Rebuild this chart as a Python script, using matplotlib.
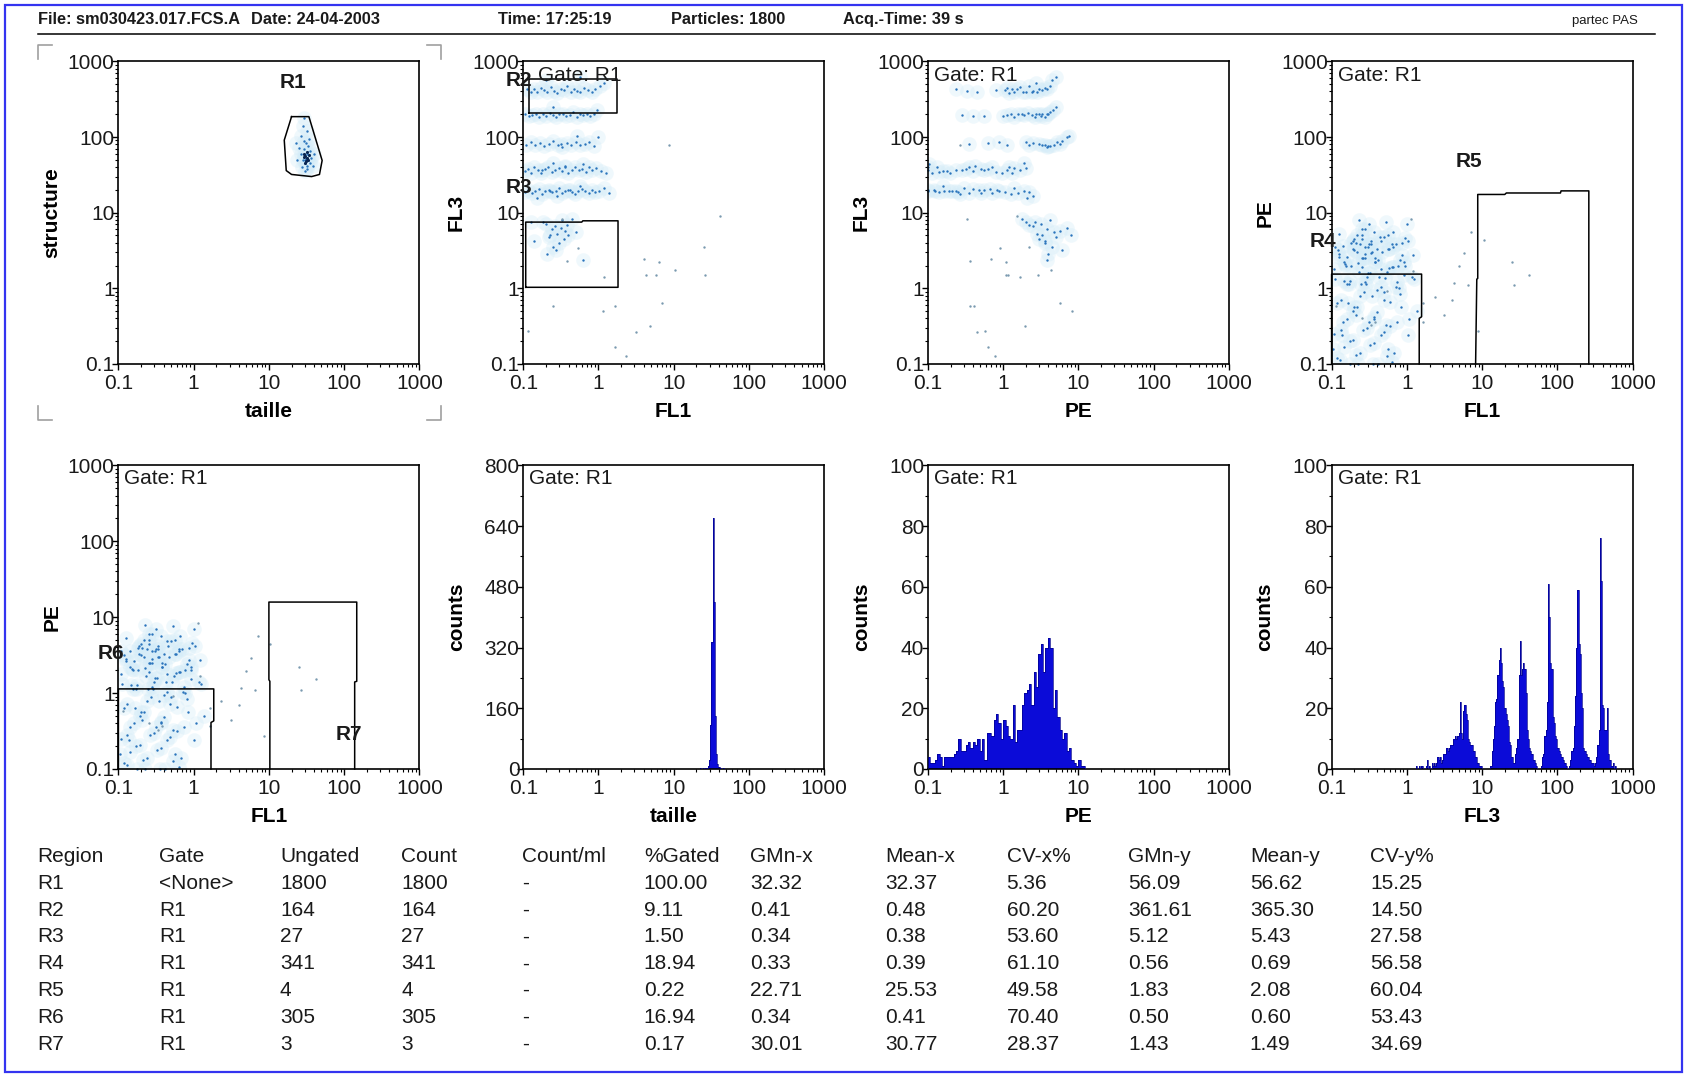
import numpy as np
import matplotlib.pyplot as plt
from matplotlib.lines import Line2D
from matplotlib.patches import Rectangle
from matplotlib.ticker import LogLocator, NullFormatter, MultipleLocator

plt.rcParams['font.family'] = ['Liberation Sans', 'DejaVu Sans']

''' 1. Datos del informe '''
header_parts = ['File: sm030423.017.FCS.A', 'Date: 24-04-2003', 'Time: 17:25:19',
                'Particles: 1800', 'Acq.-Time: 39 s']
brand = 'partec PAS'

# particulas (log10 del canal): FL1, PE, FL3 -- bandas de FL3 ~400, ~200, ~80, ~36, ~19, nube ~6, y dispersos
fl1_log = [-0.95, -0.90, -0.86, -0.81, -0.77, -0.72, -0.68, -0.63, -0.59, -0.55, -0.50, -0.46, -0.42,
           -0.37, -0.33, -0.28, -0.24, -0.19, -0.14, -0.09, -0.04, 0.02, 0.08, -0.70, -0.25,
           -0.97, -0.92, -0.88, -0.83, -0.79, -0.74, -0.70, -0.65, -0.61, -0.56, -0.52, -0.47,
           -0.43, -0.38, -0.34, -0.29, -0.25, -0.20, -0.15, -0.11, -0.06, -0.02, -0.60,
           -0.96, -0.90, -0.84, -0.78, -0.72, -0.66, -0.60, -0.54, -0.48, -0.42, -0.36, -0.30,
           -0.24, -0.18, -0.12, -0.06, 0.00, -0.50, -0.28,
           -0.98, -0.93, -0.89, -0.85, -0.80, -0.76, -0.71, -0.67, -0.62, -0.58, -0.53, -0.49,
           -0.44, -0.40, -0.35, -0.31, -0.26, -0.22, -0.17, -0.13, -0.08, -0.03, 0.03, 0.10,
           -0.75, -0.45, -0.60, -0.20,
           -0.97, -0.93, -0.88, -0.84, -0.79, -0.75, -0.71, -0.66, -0.62, -0.57, -0.53, -0.49,
           -0.44, -0.40, -0.35, -0.31, -0.27, -0.22, -0.18, -0.13, -0.09, -0.04, 0.01, 0.07,
           0.14, -0.65, -0.38, -0.55, -0.25, -0.82,
           -0.70, -0.62, -0.55, -0.48, -0.66, -0.58, -0.52, -0.44, -0.74, -0.40, -0.60, -0.50,
           -0.35, -0.68, -0.46, -0.30, -0.85, -0.56, -0.42, -0.64, -0.20, -0.90,
           1.40, 1.62, 1.42, 1.02, 0.94, 0.60, 0.81, 0.63, 0.76, 0.85, 0.22, 0.50, 0.22, -0.94,
           -0.42, -0.27, 0.08, 0.06, 0.37, 0.69, -0.48, -0.60]
pe_log = [0.12, 0.45, -0.62, 0.30, 0.05, 0.52, -0.35, 0.22, 0.40, 0.08, 0.58, -0.10, 0.35,
          0.15, 0.48, -0.48, 0.27, 0.55, 0.02, 0.38, 0.18, 0.62, 0.44, 0.65, 0.70,
          0.25, 0.50, -0.55, 0.10, 0.42, 0.60, -0.25, 0.33, 0.05, 0.55, 0.20, 0.47,
          -0.40, 0.38, 0.62, 0.14, 0.52, 0.28, 0.58, 0.00, 0.44, 0.66, 0.70,
          0.55, 0.72, 0.35, -0.20, 0.62, 0.48, 0.78, 0.05, 0.58, 0.40, 0.68, -0.05,
          0.52, 0.75, 0.30, 0.60, 0.85, -0.45, 0.88,
          -0.80, -0.20, -0.95, -0.45, 0.05, -0.70, -0.30, -0.88, -0.10, -0.55, 0.15, -0.75,
          -0.38, -0.02, -0.62, -0.15, 0.22, -0.50, -0.85, 0.08, -0.25, 0.30, -0.40, 0.12,
          -1.00, -1.00, 0.28, -0.98,
          -0.60, -0.92, -0.15, -0.78, -0.40, 0.10, -0.68, -0.25, -0.85, -0.05, -0.52, 0.20,
          -0.72, -0.32, 0.02, -0.58, -0.90, -0.18, 0.28, -0.45, -0.08, 0.35, -0.62, 0.15,
          -0.30, -1.00, -1.00, 0.40, -0.80, 0.32,
          0.50, 0.58, 0.45, 0.62, 0.70, 0.40, 0.55, 0.75, 0.30, 0.52, 0.65, 0.85,
          0.25, 0.60, 0.48, 0.68, 0.56, 0.78, 0.35, 0.90, 0.58, 0.42,
          0.35, 0.18, 0.04, 0.64, -0.57, -0.16, 0.04, 0.07, 0.46, 0.75, -0.44, -0.35, -0.20, -0.24,
          -0.44, -0.04, 0.23, 0.92, -0.11, 0.29, -0.48, -0.39]
fl3_log = [2.63, 2.60, 2.64, 2.59, 2.65, 2.62, 2.60, 2.66, 2.61, 2.58, 2.63, 2.62, 2.67,
           2.60, 2.64, 2.61, 2.59, 2.65, 2.62, 2.60, 2.63, 2.68, 2.72, 2.75, 2.80,
           2.30, 2.28, 2.29, 2.31, 2.27, 2.30, 2.28, 2.32, 2.29, 2.27, 2.30, 2.31,
           2.28, 2.29, 2.33, 2.27, 2.30, 2.29, 2.31, 2.28, 2.30, 2.36, 2.40,
           1.90, 1.93, 1.89, 1.92, 1.88, 1.91, 1.95, 1.90, 1.87, 1.92, 1.90, 1.93,
           1.89, 1.91, 1.94, 1.88, 2.00, 1.91, 2.02,
           1.55, 1.58, 1.53, 1.60, 1.56, 1.52, 1.58, 1.61, 1.54, 1.57, 1.59, 1.55,
           1.62, 1.53, 1.57, 1.60, 1.56, 1.58, 1.54, 1.61, 1.56, 1.59, 1.55, 1.52,
           1.57, 1.60, 1.66, 1.64,
           1.27, 1.30, 1.26, 1.29, 1.31, 1.25, 1.28, 1.30, 1.27, 1.29, 1.32, 1.26,
           1.28, 1.30, 1.27, 1.25, 1.29, 1.31, 1.28, 1.26, 1.30, 1.27, 1.29, 1.32,
           1.26, 1.28, 1.30, 1.22, 1.35, 1.20,
           0.85, 0.78, 0.72, 0.90, 0.68, 0.82, 0.60, 0.76, 0.88, 0.70, 0.55, 0.80,
           0.92, 0.45, 0.65, 0.74, 0.63, 0.50, 0.84, 0.70, 0.38, 0.88,
           0.54, 0.95, 0.18, 0.24, 1.90, 0.39, 0.35, 0.17, 0.17, -0.20, -0.24, -0.58, -0.77, -0.57,
           0.36, 0.53, 0.15, -0.30, -0.90, -0.50, 0.92, -0.24]
n_sparse = 22  # los ultimos eventos son puntos aislados

# nube taille / structure (log10)
taille_log = [1.48, 1.50, 1.47, 1.52, 1.49, 1.46, 1.51, 1.53, 1.48, 1.50, 1.49, 1.50,
              1.45, 1.54, 1.47, 1.52, 1.43, 1.49, 1.56, 1.44, 1.51, 1.46, 1.40, 1.55,
              1.42, 1.50, 1.48, 1.58, 1.38, 1.45, 1.53, 1.47, 1.60, 1.36, 1.48]
structure_log = [1.75, 1.72, 1.78, 1.70, 1.68, 1.74, 1.80, 1.76, 1.65, 1.62, 1.71, 1.77,
                 1.70, 1.66, 1.84, 1.88, 1.78, 1.92, 1.72, 1.60, 1.58, 1.95, 1.85, 1.82,
                 2.02, 2.08, 1.55, 1.62, 1.70, 2.15, 1.98, 2.25, 1.78, 1.92, 1.69]

# histogramas: primer canal (desde 0.1) y cuentas
taille_first_ch, taille_per_dec = 148, 64
taille_counts = [1, 0, 2, 0, 1, 2, 1, 2, 3, 8, 25, 115, 335, 662, 440, 140, 40, 12, 5, 2, 1, 0, 2, 1]
pe_first_ch, pe_per_dec = 0, 32
pe_counts = [4, 2, 2, 3, 5, 4, 1, 4, 4, 4, 4, 5, 6, 10, 6, 6, 8, 9, 7, 9,
             8, 10, 6, 10, 3, 12, 12, 11, 16, 18, 15, 10, 16, 14, 11, 10, 21, 9, 13, 13,
             21, 25, 26, 28, 21, 32, 27, 38, 41, 32, 40, 43, 40, 20, 26, 17, 13, 10, 12, 6,
             7, 3, 2, 1, 3, 1, 1]
fl3_first_ch, fl3_per_dec = 72, 64
fl3_counts = [1, 0, 1, 0, 1, 1, 0, 0, 1, 3, 0, 1, 0, 2, 1, 2, 1, 2, 4, 3,
              4, 2, 3, 5, 5, 7, 7, 6, 7, 8, 8, 10, 10, 11, 10, 11, 12, 22, 12, 10,
              19, 21, 18, 16, 10, 9, 8, 8, 6, 6, 4, 4, 2, 1, 1, 1, 0, 0, 0, 0,
              0, 0, 0, 1, 6, 10, 14, 22, 23, 31, 36, 40, 35, 29, 27, 20, 18, 16, 14, 9,
              8, 4, 2, 2, 5, 7, 10, 31, 42, 31, 33, 35, 33, 25, 13, 10, 7, 6, 5, 3,
              3, 2, 1, 0, 0, 0, 1, 4, 5, 11, 13, 22, 61, 50, 35, 33, 17, 15, 11, 10,
              7, 6, 5, 4, 4, 3, 2, 1, 0, 0, 1, 3, 6, 7, 14, 24, 40, 59, 41, 38,
              25, 20, 7, 6, 5, 4, 4, 3, 3, 2, 2, 1, 2, 4, 8, 13, 76, 62, 21, 20,
              13, 13, 20, 5, 3, 3, 1, 2, 0, 1]

# regiones (vertices)
r1_x = [20, 34, 51, 47, 37, 20, 17, 16, 20]
r1_y = [186, 186, 49, 32, 30, 32, 36, 91, 186]
r2_x = [0.12, 0.12, 1.77, 1.77, 0.12]
r2_y = [207, 580, 580, 207, 207]
r3_x = [0.108, 0.108, 0.60, 0.62, 1.82, 1.82, 0.108]
r3_y = [1.03, 7.5, 7.5, 7.8, 7.8, 1.03, 1.03]
r4_x = [0.1, 0.1, 1.57, 1.57, 1.46, 1.46]
r4_y = [0.1, 1.54, 1.54, 0.42, 0.40, 0.1]
r5_x = [8.2, 8.5, 8.75, 8.75, 20, 21, 110, 112, 262, 262]
r5_y = [0.1, 1.32, 1.35, 17.4, 17.4, 18.2, 18.2, 19.4, 19.4, 0.1]
r6_x = [0.1, 0.1, 1.85, 1.85, 1.70, 1.70]
r6_y = [0.1, 1.135, 1.135, 0.43, 0.41, 0.1]
r7_x = [10.3, 10.3, 10.0, 10.0, 147, 147, 138, 138]
r7_y = [0.1, 1.43, 1.5, 15.8, 15.8, 1.43, 1.40, 0.1]

# tabla de estadisticas
table_header = ['Region', 'Gate', 'Ungated', 'Count', 'Count/ml', '%Gated', 'GMn-x',
                'Mean-x', 'CV-x%', 'GMn-y', 'Mean-y', 'CV-y%']
table_rows = [
    ['R1', '<None>', '1800', '1800', '-', '100.00', '32.32', '32.37', '5.36', '56.09', '56.62', '15.25'],
    ['R2', 'R1', '164', '164', '-', '9.11', '0.41', '0.48', '60.20', '361.61', '365.30', '14.50'],
    ['R3', 'R1', '27', '27', '-', '1.50', '0.34', '0.38', '53.60', '5.12', '5.43', '27.58'],
    ['R4', 'R1', '341', '341', '-', '18.94', '0.33', '0.39', '61.10', '0.56', '0.69', '56.58'],
    ['R5', 'R1', '4', '4', '-', '0.22', '22.71', '25.53', '49.58', '1.83', '2.08', '60.04'],
    ['R6', 'R1', '305', '305', '-', '16.94', '0.34', '0.41', '70.40', '0.50', '0.60', '53.43'],
    ['R7', 'R1', '3', '3', '-', '0.17', '30.01', '30.77', '28.37', '1.43', '1.49', '34.69'],
]

''' 2. Figura '''
W, H = 1688, 1077
fig = plt.figure(figsize=(W / 100, H / 100), dpi=100)
fig.patch.set_facecolor('white')

col_left = [118.4, 523.2, 927.9, 1331.6]
row_top = [61.4, 465.3]
row_bot = [363.9, 769.0]
FS = 15
TXT = '#1a1a1a'


def add_ax(col, row):
    return fig.add_axes([col_left[col] / W, 1 - row_bot[row] / H, 301 / W,
                         (row_bot[row] - row_top[row]) / H])


def log_x(ax):
    ax.set_xscale('log')
    ax.set_xlim(0.1, 1000)
    ax.set_xticks([0.1, 1, 10, 100, 1000])
    ax.set_xticklabels(['0.1', '1', '10', '100', '1000'])
    ax.xaxis.set_minor_locator(LogLocator(base=10, subs=range(2, 10)))
    ax.xaxis.set_minor_formatter(NullFormatter())


def log_y(ax):
    ax.set_yscale('log')
    ax.set_ylim(0.1, 1000)
    ax.set_yticks([0.1, 1, 10, 100, 1000])
    ax.set_yticklabels(['0.1', '1', '10', '100', '1000'])
    ax.yaxis.set_minor_locator(LogLocator(base=10, subs=range(2, 10)))
    ax.yaxis.set_minor_formatter(NullFormatter())


def style(ax, xlabel, ylabel, gate_x=0.02):
    for s in ax.spines.values():
        s.set_linewidth(1.2)
    ax.tick_params(which='major', length=4.5, width=1.0, labelsize=FS, labelcolor=TXT, direction='out')
    ax.tick_params(which='minor', length=2.5, width=0.8, direction='out')
    ax.tick_params(axis='y', which='both', pad=-1.8, right=False)
    ax.tick_params(axis='x', which='both', pad=3, top=False)
    ax.set_xlabel(xlabel, fontsize=FS, fontweight='bold')
    ax.set_ylabel(ylabel, fontsize=FS, fontweight='bold')
    ax.xaxis.set_label_coords(0.5, -0.125)
    ax.yaxis.set_label_coords(-0.19, 0.5)
    if gate_x is not None:
        ax.text(gate_x, 0.955, 'Gate: R1', transform=ax.transAxes, fontsize=FS,
                va='center', ha='left', color=TXT, zorder=5)


def dots(ax, x, y):
    xv = np.power(10.0, x)
    yv = np.power(10.0, y)
    k = len(xv) - n_sparse
    # halo claro solo alrededor de las poblaciones densas
    ax.scatter(xv[:k], yv[:k], s=110, color='#d3ecf8', alpha=0.35, lw=0, zorder=1)
    ax.scatter(xv[:k], yv[:k], s=3, color='#2a74bc', lw=0, zorder=2, clip_on=False)
    ax.scatter(xv[k:], yv[k:], s=3, color='#7a9ab0', lw=0, zorder=2, clip_on=False)


def gate_line(ax, x, y):
    ax.plot(x, y, color='black', lw=1.1, zorder=4, clip_on=False)


def region_label(ax, x, y, s):
    ax.text(x, y, s, fontsize=FS, fontweight='bold', ha='center', va='center',
            color=TXT, zorder=6, clip_on=False)


def hist(ax, first_ch, per_dec, counts):
    edges = np.power(10.0, -1 + np.arange(first_ch, first_ch + len(counts) + 1) / per_dec)
    ax.stairs(counts, edges, fill=True, color='#0b0bd8', lw=0, zorder=2)
    ax.stairs(counts, edges, color='#00008c', lw=0.5, zorder=3)


# panel 1: taille vs structure
ax = add_ax(0, 0)
log_x(ax); log_y(ax)
tx = np.power(10.0, taille_log)
sy = np.power(10.0, structure_log)
ax.scatter(tx, sy, s=110, color='#d3ecf8', alpha=0.35, lw=0, zorder=1)
ax.scatter(tx, sy, s=3, color='#2a74bc', lw=0, zorder=2)
ax.scatter(tx[:9], sy[:9], s=5, color='#0a2550', lw=0, zorder=3)
gate_line(ax, r1_x, r1_y)
region_label(ax, 20.6, 519, 'R1')
style(ax, 'taille', 'structure', gate_x=None)

# panel 2: FL1 vs FL3
ax = add_ax(1, 0)
log_x(ax); log_y(ax)
dots(ax, fl1_log, fl3_log)
gate_line(ax, r2_x, r2_y)
gate_line(ax, r3_x, r3_y)
region_label(ax, 0.088, 560, 'R2')
region_label(ax, 0.088, 21.6, 'R3')
style(ax, 'FL1', 'FL3', gate_x=0.05)

# panel 3: PE vs FL3
ax = add_ax(2, 0)
log_x(ax); log_y(ax)
dots(ax, pe_log, fl3_log)
style(ax, 'PE', 'FL3')

# panel 4: FL1 vs PE (R4, R5)
ax = add_ax(3, 0)
log_x(ax); log_y(ax)
dots(ax, fl1_log, pe_log)
gate_line(ax, r4_x, r4_y)
gate_line(ax, r5_x, r5_y)
region_label(ax, 0.077, 4.2, 'R4')
region_label(ax, 6.7, 47, 'R5')
style(ax, 'FL1', 'PE')

# panel 5: FL1 vs PE (R6, R7)
ax = add_ax(0, 1)
log_x(ax); log_y(ax)
dots(ax, fl1_log, pe_log)
gate_line(ax, r6_x, r6_y)
gate_line(ax, r7_x, r7_y)
region_label(ax, 0.079, 3.3, 'R6')
region_label(ax, 117, 0.284, 'R7')
style(ax, 'FL1', 'PE')

# panel 6: histograma taille
ax = add_ax(1, 1)
log_x(ax)
hist(ax, taille_first_ch, taille_per_dec, taille_counts)
ax.set_ylim(0, 800)
ax.set_yticks([0, 160, 320, 480, 640, 800])
ax.yaxis.set_minor_locator(MultipleLocator(80))
style(ax, 'taille', 'counts')

# panel 7: histograma PE
ax = add_ax(2, 1)
log_x(ax)
hist(ax, pe_first_ch, pe_per_dec, pe_counts)
ax.set_ylim(0, 100)
ax.set_yticks([0, 20, 40, 60, 80, 100])
ax.yaxis.set_minor_locator(MultipleLocator(10))
style(ax, 'PE', 'counts')

# panel 8: histograma FL3
ax = add_ax(3, 1)
log_x(ax)
hist(ax, fl3_first_ch, fl3_per_dec, fl3_counts)
ax.set_ylim(0, 100)
ax.set_yticks([0, 20, 40, 60, 80, 100])
ax.yaxis.set_minor_locator(MultipleLocator(10))
style(ax, 'FL3', 'counts')

''' 3. Encabezado, marco y tabla '''
head_x = [37.7, 250.8, 498.4, 670.7, 842.9]
for hx, part in zip(head_x, header_parts):
    fig.text(hx / W, 1 - 19.5 / H, part, fontsize=11.8, fontweight='bold', va='center', ha='left',
             color=TXT)
fig.text(1638 / W, 1 - 21 / H, brand, fontsize=9.5, va='center', ha='right', color=TXT)
fig.add_artist(Line2D([38 / W, 1655 / W], [1 - 33.5 / H] * 2, color='black', lw=1.1))
fig.add_artist(Rectangle((5 / W, 5 / H), 1677 / W, 1067 / H, fill=False, edgecolor='#3434f0',
                         lw=1.6, transform=fig.transFigure))

# esquinas de seleccion del primer grafico
bx0, bx1, by0, by1, arm = 37.7, 441.4, 45.2, 420.0, 14
for cx, cy, dx, dy in [(bx0, by0, 1, 1), (bx1, by0, -1, 1), (bx0, by1, 1, -1), (bx1, by1, -1, -1)]:
    fig.add_artist(Line2D([(cx + dx * arm) / W, cx / W, cx / W],
                          [1 - cy / H, 1 - cy / H, 1 - (cy + dy * arm) / H],
                          color='#a0a0a0', lw=1.2))

col_x = [37.7, 159.3, 279.9, 401.5, 522.1, 643.8, 750.3, 884.9, 1006.5, 1128.2, 1249.8, 1370.4]
row_y0, row_dy = 856.2, 26.9
for r, row in enumerate([table_header] + table_rows):
    for cx, cell in zip(col_x, row):
        fig.text(cx / W, 1 - (row_y0 + r * row_dy) / H, cell, fontsize=FS, va='center',
                 ha='left', color=TXT)

fig.savefig('out.png', dpi=100)
